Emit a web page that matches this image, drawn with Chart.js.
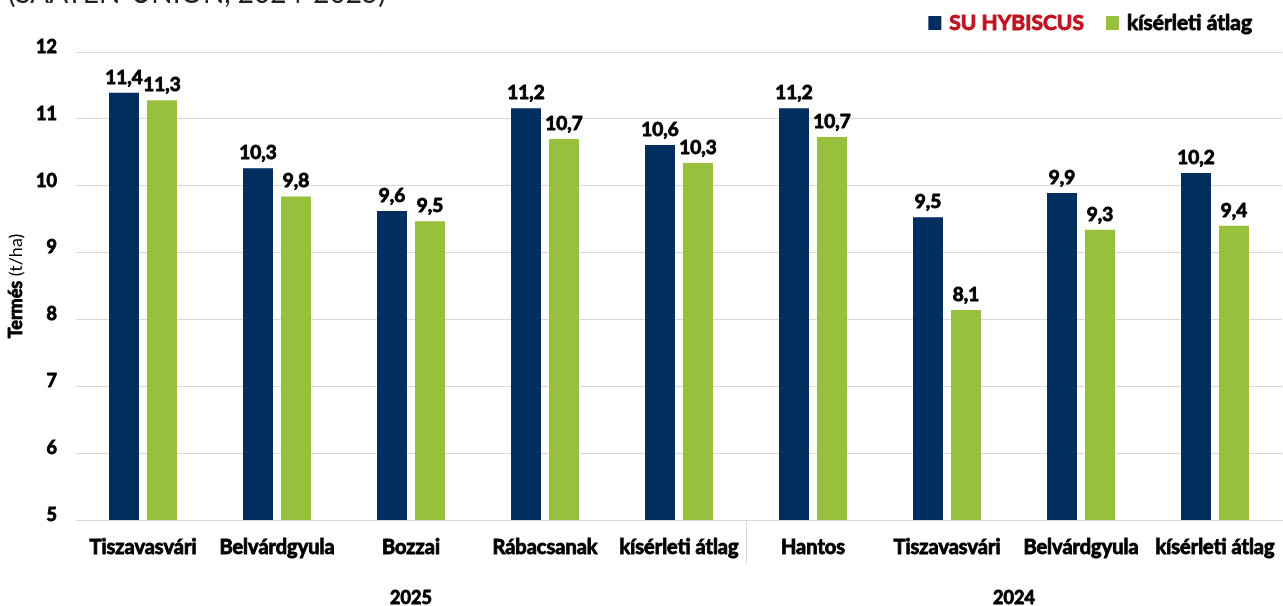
<!DOCTYPE html>
<html lang="hu">
<head>
<meta charset="utf-8">
<title>Termés (t/ha)</title>
<script src="https://cdn.jsdelivr.net/npm/chart.js@4.4.1/dist/chart.umd.min.js"></script>
<style>
  html, body { margin: 0; padding: 0; background: #fff; }
  #wrap { width: 1283px; height: 606px; }
</style>
</head>
<body>
<div id="wrap"><canvas id="myChart" width="1283" height="606"></canvas></div>
<script>
const categories = ['Tiszavasvári', 'Belvárdgyula', 'Bozzai', 'Rábacsanak', 'kísérleti átlag',
                    'Hantos', 'Tiszavasvári', 'Belvárdgyula', 'kísérleti átlag'];
const hybiscus = [11.39, 10.26, 9.62, 11.16, 10.61, 11.16, 9.53, 9.89, 10.19];
const atlag    = [11.28, 9.84, 9.47, 10.70, 10.34, 10.73, 8.14, 9.34, 9.40];
const yTicks = [5, 6, 7, 8, 9, 10, 11, 12];
const years = ['2025', '2024'];
const yearFirst = [0, 5];
const yearLast = [4, 8];
const seriesNames = ['SU HYBISCUS', 'kísérleti átlag'];
const chartTitle = '(SAATEN-UNION, 2024-2025)';

const NAVY = '#002f5f';
const GREEN = '#97c13c';
const FONT = "Lato, 'Open Sans', sans-serif";
const STROKE = 0.9; // Lato bold is lighter than the original font, thicken it a bit
const legendTextColors = ['#c1121f', '#000000'];

const myChart = document.getElementById('myChart');

function heavyText(ctx, text, x, y, color) {
    ctx.fillStyle = color;
    ctx.strokeStyle = color;
    ctx.lineWidth = STROKE;
    ctx.lineJoin = 'round';
    ctx.strokeText(text, x, y);
    ctx.fillText(text, x, y);
}

// value labels over the bars, "11,4" style
const barValues = {
    id: 'barValues',
    afterDatasetsDraw(chart) {
        const ctx = chart.ctx;
        ctx.save();
        ctx.font = 'bold 19px ' + FONT;
        ctx.textAlign = 'center';
        ctx.textBaseline = 'alphabetic';
        chart.data.datasets.forEach((ds, i) => {
            chart.getDatasetMeta(i).data.forEach((bar, j) => {
                heavyText(ctx, ds.data[j].toFixed(1).replace('.', ','), bar.x, bar.y - 9, '#000');
            });
        });
        ctx.restore();
    }
};

// year groups under the x axis, axis title, legend and the clipped heading
const extras = {
    id: 'extras',
    afterDraw(chart) {
        const ctx = chart.ctx;
        const x = chart.scales.x;
        const area = chart.chartArea;
        const half = (x.getPixelForValue(1) - x.getPixelForValue(0)) / 2;
        ctx.save();

        // separator between the two years
        ctx.strokeStyle = '#d9d9d9';
        ctx.lineWidth = 1;
        for (let g = 1; g < years.length; g++) {
            const sx = Math.round(x.getPixelForValue(yearFirst[g]) - half) + 0.5;
            ctx.beginPath();
            ctx.moveTo(sx, area.bottom);
            ctx.lineTo(sx, area.bottom + 44);
            ctx.stroke();
        }

        ctx.font = 'bold 18px ' + FONT;
        ctx.textAlign = 'center';
        ctx.textBaseline = 'alphabetic';
        years.forEach((y, g) => {
            const cx = (x.getPixelForValue(yearFirst[g]) + x.getPixelForValue(yearLast[g])) / 2;
            heavyText(ctx, y, cx, 604, '#000');
        });

        // y axis title: bold "Termés" + regular "(t/ha)"
        ctx.save();
        ctx.translate(16, (area.top + area.bottom) / 2);
        ctx.rotate(-Math.PI / 2);
        ctx.textAlign = 'left';
        ctx.textBaseline = 'middle';
        const boldPart = 'Termés';
        const normPart = ' (t/ha)';
        ctx.font = 'bold 18px ' + FONT;
        const w1 = ctx.measureText(boldPart).width;
        ctx.font = '18px ' + FONT;
        const w2 = ctx.measureText(normPart).width;
        const start = -(w1 + w2) / 2;
        ctx.font = 'bold 18px ' + FONT;
        heavyText(ctx, boldPart, start, 0, '#000');
        ctx.font = '18px ' + FONT;
        ctx.fillStyle = '#000';
        ctx.fillText(normPart, start + w1, 0);
        ctx.restore();

        // legend, right aligned
        ctx.font = 'bold 21px ' + FONT;
        ctx.textAlign = 'left';
        let lx = 1252;
        for (let i = chart.data.datasets.length - 1; i >= 0; i--) {
            const ds = chart.data.datasets[i];
            const tw = ctx.measureText(ds.label).width;
            lx -= tw;
            heavyText(ctx, ds.label, lx, 29.5, legendTextColors[i]);
            lx -= 8 + 13;
            ctx.fillStyle = ds.backgroundColor;
            ctx.fillRect(lx, 16, 13, 14);
            lx -= 22;
        }

        // heading, mostly above the visible area
        ctx.fillStyle = '#222';
        ctx.font = '28px ' + FONT;
        ctx.fillText(chartTitle, 8, 3);
        ctx.restore();
    }
};

let globalChart = new Chart(myChart, {
    type: 'bar',
    data: {
        labels: categories,
        datasets: [{
            label: seriesNames[0],
            data: hybiscus,
            backgroundColor: NAVY,
            categoryPercentage: 0.567,
            barPercentage: 0.79
        }, {
            label: seriesNames[1],
            data: atlag,
            backgroundColor: GREEN,
            categoryPercentage: 0.567,
            barPercentage: 0.79
        }]
    },
    options: {
        responsive: false,
        animation: false,
        layout: {
            padding: { top: 52, right: 1, left: 0, bottom: 0 }
        },
        scales: {
            x: {
                grid: { display: false, drawTicks: false },
                border: { color: '#d9d9d9', width: 1 },
                ticks: {
                    color: '#000',
                    textStrokeColor: '#000',
                    textStrokeWidth: STROKE,
                    padding: 16,
                    maxRotation: 0,
                    autoSkip: false,
                    font: { family: FONT, size: 20, weight: 'bold' }
                },
                afterFit(scale) {
                    scale.height = 86;
                    scale.paddingLeft = 0;
                    scale.paddingRight = 0;
                }
            },
            y: {
                min: 5,
                max: 12,
                grid: { color: '#d9d9d9', drawTicks: false },
                border: { display: false },
                afterBuildTicks(scale) {
                    scale.ticks = yTicks.map(v => ({ value: v }));
                },
                ticks: {
                    color: '#000',
                    textStrokeColor: '#000',
                    textStrokeWidth: STROKE,
                    padding: 19,
                    labelOffset: -5,
                    font: { family: FONT, size: 18, weight: 'bold' }
                },
                afterFit(scale) {
                    scale.width = 76;
                }
            }
        },
        plugins: {
            legend: { display: false },
            tooltip: { enabled: false }
        }
    },
    plugins: [barValues, extras]
});
</script>
</body>
</html>
